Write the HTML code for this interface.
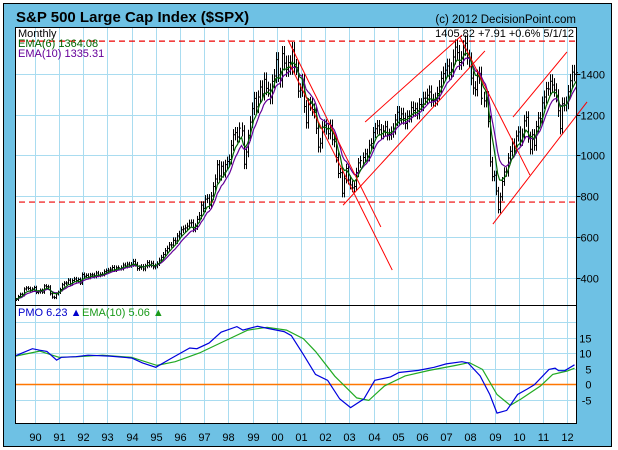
<!DOCTYPE html>
<html><head><meta charset="utf-8"><style>
html,body{margin:0;padding:0;background:#fff;}
svg{display:block;font-family:"Liberation Sans",sans-serif;}
</style></head><body>
<svg id="chart" width="618" height="450" viewBox="0 0 618 450" xmlns="http://www.w3.org/2000/svg">
<rect x="0" y="0" width="618" height="450" fill="#fff"/>
<rect x="3.5" y="3.5" width="608" height="443" fill="#6ec1e4" stroke="#000" stroke-width="1"/>
<text x="16" y="22" font-size="15" font-weight="bold" fill="#000">S&amp;P 500 Large Cap Index ($SPX)</text>
<text x="576" y="23" font-size="11.5" text-anchor="end" fill="#000">(c) 2012 DecisionPoint.com</text>
<rect x="15.5" y="27.5" width="561" height="278" fill="#fff" stroke="#000"/>
<rect x="15.5" y="305.5" width="561" height="118" fill="#fff" stroke="#000"/>
<g id="grid"></g>
<g id="marks"></g>
<rect x="15.5" y="27.5" width="561" height="278" fill="none" stroke="#000"/>
<rect x="15.5" y="305.5" width="561" height="118" fill="none" stroke="#000"/>
<g id="labels"></g>
<text x="18" y="37" font-size="11" fill="#000">Monthly</text>
<text x="18" y="47" font-size="11" fill="#006400">EMA(6) 1364.08</text>
<text x="18" y="57" font-size="11" fill="#660099">EMA(10) 1335.31</text>
<text x="574" y="37" font-size="11" text-anchor="end" fill="#000">1405.82  +7.91  +0.6%  5/1/12</text>
<text x="18" y="316" font-size="11" fill="#0000cc">PMO  6.23 ▲</text>
<text x="82" y="316" font-size="11" fill="#1a9a1a">EMA(10)  5.06 ▲</text>
</svg>
<script>
const closes1989=[294.9,309.6,320.5,317.9,346.1,351.5,349.2,340.4,346.0,353.4];
const closes1990=[329.1,331.9,339.9,330.8,361.2,358.0,356.2,322.6,306.1,304.0,322.2,330.2];
const closes1991=[343.9,367.1,375.2,375.3,389.8,371.2,387.8,395.4,387.9,392.5,375.2,417.1];
const closes1992=[408.8,412.7,403.7,415.0,415.4,408.1,424.2,414.0,417.8,418.7,431.4,435.7];
const closes1993=[438.8,443.4,451.7,440.2,450.2,450.5,448.1,463.6,458.9,467.8,461.8,466.5];
const closes1994=[481.6,467.1,445.8,450.9,456.5,444.3,458.3,475.5,462.7,472.4,453.7,459.3];
const closes1995=[470.4,487.4,500.7,514.7,533.4,544.8,562.1,561.9,584.4,581.5,605.4,615.9];
const closes1996=[636.0,640.4,645.5,654.2,669.1,670.6,640.0,652.0,687.3,705.3,757.0,740.7];
const closes1997=[786.2,790.8,757.1,801.3,848.3,885.1,954.3,899.5,947.3,914.6,955.4,970.4];
const closes1998=[980.3,1049.3,1101.8,1111.8,1090.8,1133.8,1120.7,957.3,1017.0,1098.7,1163.6,1229.2];
const closes1999=[1279.6,1238.3,1286.4,1335.2,1301.8,1372.7,1328.7,1320.4,1282.7,1362.9,1389.0,1469.3];
const closes2000=[1394.5,1366.4,1498.6,1452.4,1420.6,1454.6,1430.8,1517.7,1436.5,1429.4,1315.2,1320.3];
const closes2001=[1366.0,1239.9,1160.3,1249.5,1255.8,1224.4,1211.2,1133.6,1040.9,1059.8,1139.5,1148.1];
const closes2002=[1130.2,1106.7,1147.4,1076.9,1067.1,989.8,911.6,916.1,815.3,885.8,936.3,879.8];
const closes2003=[855.7,841.2,848.2,916.9,963.6,974.5,990.3,1008.0,996.0,1050.7,1058.2,1111.9];
const closes2004=[1131.1,1144.9,1126.2,1107.3,1120.7,1140.8,1101.7,1104.2,1114.6,1130.2,1173.8,1211.9];
const closes2005=[1181.3,1203.6,1180.6,1156.9,1191.5,1191.3,1234.2,1220.3,1228.8,1207.0,1249.5,1248.3];
const closes2006=[1280.1,1280.7,1294.9,1310.6,1270.1,1270.2,1276.7,1303.8,1335.9,1377.9,1400.6,1418.3];
const closes2007=[1438.2,1406.8,1420.9,1482.4,1530.6,1503.4,1455.3,1474.0,1526.8,1549.4,1481.1,1468.4];
const closes2008=[1378.6,1330.6,1322.7,1385.6,1400.4,1280.0,1267.4,1282.8,1166.4,968.8,896.2,903.3];
const closes2009=[825.9,735.1,797.9,872.8,919.1,919.3,987.5,1020.6,1057.1,1036.2,1095.6,1115.1];
const closes2010=[1073.9,1104.5,1169.4,1186.7,1089.4,1030.7,1101.6,1049.3,1141.2,1183.3,1180.6,1257.6];
const closes2011=[1286.1,1327.2,1325.8,1363.6,1345.2,1320.6,1292.3,1218.9,1131.4,1253.3,1247.0,1257.6];
const closes2012=[1312.4,1365.7,1408.5,1397.9,1405.8];
const startYear=1989+2/12; // March 1989

const pmoYears=[1989.2,1989.9,1990.2,1990.5,1990.9,1991.1,1991.7,1992.2,1993.1,1994.0,1994.45,1995.0,1995.6,1996.4,1996.7,1997.2,1997.7,1998.35,1998.6,1999.2,1999.65,2000.3,2000.6,2001.1,2001.6,2002.1,2002.6,2003.05,2003.6,2004.05,2004.7,2005.05,2005.85,2006.5,2007.0,2007.65,2007.9,2008.4,2008.8,2009.1,2009.5,2009.95,2010.35,2010.65,2011.25,2011.5,2011.65,2011.9,2012.3];
const pmoValues=[9.1,11.4,10.9,10.5,7.7,8.6,8.8,9.3,9.0,8.4,6.8,5.4,8.1,11.6,11.4,13.2,16.7,18.5,17.4,18.6,17.9,16.9,15.6,9.5,3.1,1.2,-4.8,-7.6,-4.8,1.2,2.3,3.7,4.4,5.4,6.5,7.2,6.8,2.6,-3.4,-9.4,-8.5,-3.4,-1.6,-0.2,4.7,5.1,4.3,4.3,6.2];
const sigYears=[1989.2,1990.2,1991.0,1991.8,1992.8,1994.0,1995.05,1995.8,1996.8,1997.8,1998.8,1999.6,2000.4,2001.1,2001.6,2002.4,2003.3,2003.8,2004.45,2005.3,2006.3,2007.4,2007.95,2008.5,2009.1,2009.65,2010.1,2010.9,2011.4,2012.0,2012.3];
const sigValues=[9.0,10.6,8.6,8.8,9.3,8.6,6.0,7.2,10.0,13.7,17.4,18.3,17.4,14.6,10.5,2.5,-4.5,-5.3,-0.6,2.6,4.4,6.0,6.9,4.7,-3.4,-6.9,-4.8,-0.6,3.1,4.2,5.1];

const trendStartYears=[2000.46,2000.55,2003.65,2002.74,2007.57,2009.76,2008.93];
const trendStartPrices=[1566,1443,1164,757,1580,1188,664];
const trendEndYears=[2004.30,2004.77,2007.66,2008.60,2010.46,2011.99,2012.82];
const trendEndPrices=[650,439,1590,1512,904,1507,1262];
const levelPrices=[1560,772];

const priceTicks=[400,600,800,1000,1200,1400];
const pmoTicks=[-5,0,5,10,15];
const yearLabels=["90","91","92","93","94","95","96","97","98","99","00","01","02","03","04","05","06","07","08","09","10","11","12"];

const closes=[].concat(closes1989,closes1990,closes1991,closes1992,closes1993,closes1994,closes1995,closes1996,closes1997,closes1998,closes1999,closes2000,closes2001,closes2002,closes2003,closes2004,closes2005,closes2006,closes2007,closes2008,closes2009,closes2010,closes2011,closes2012);

const L=15.5,R=576.5,PT=27.5,PB=305.5,QT=305.5,QB=423.5;
const xOfYear=y=>34.8+(y-1990)*24.2;
const yP=p=>278-(p-400)*0.2042;
const yQ=v=>384-v*3.1;
const NS="http://www.w3.org/2000/svg";
function mk(parent,tag,attrs){const e=document.createElementNS(NS,tag);for(const k in attrs)e.setAttribute(k,attrs[k]);parent.appendChild(e);return e;}
const grid=document.getElementById('grid'),marks=document.getElementById('marks'),labels=document.getElementById('labels');
const gc="#a9dcf0";

yearLabels.forEach((lab,i)=>{
  const x=Math.round(xOfYear(1990+i))+0.5;
  const g1=mk(grid,'line',{x1:x,x2:x,y1:PT,y2:PB,stroke:gc});
  
  
  const g2=mk(grid,'line',{x1:x,x2:x,y1:QT,y2:QB,stroke:gc});
  
  
  const t=mk(labels,'text',{x:x,y:441,'font-size':11,'text-anchor':'middle',fill:'#000'});
  t.textContent=lab;
  
  
});
priceTicks.forEach(p=>{
  const y=Math.round(yP(p))+0.5;
  const g=mk(grid,'line',{x1:L,x2:R,y1:y,y2:y,stroke:gc});
  
  
  mk(labels,'line',{x1:R,x2:R+4,y1:y,y2:y,stroke:'#000'});
  const t=mk(labels,'text',{x:R+4,y:y+4,'font-size':11,fill:'#000'});
  t.textContent=p;
  
  
});
pmoTicks.forEach(v=>{
  const y=Math.round(yQ(v))+0.5;
  const g=mk(grid,'line',{x1:L,x2:R,y1:y,y2:y,stroke:v===0?'#ff7700':gc,'stroke-width':v===0?1.5:1});
  
  
  const t=mk(labels,'text',{x:R+15,y:y+4,'font-size':11,'text-anchor':'end',fill:'#000'});
  t.textContent=v;
  
  
});
{const y=Math.round(yQ(20))+0.5;mk(grid,'line',{x1:L,x2:R,y1:y,y2:y,stroke:gc});}

// level lines
levelPrices.forEach(p=>{
  const l=mk(marks,'line',{x1:19,x2:R,y1:yP(p),y2:yP(p),stroke:'#e00',"stroke-width":1.2,"stroke-dasharray":"6,4"});
  
  
});

// bars
const xOfIdx=i=>xOfYear(startYear+(i+0.5)/12);
for(let i=0;i<closes.length;i++){
  const c=closes[i],o=i>0?closes[i-1]:c;
  const hi=Math.max(o,c)*1.025,lo=Math.min(o,c)*0.975;
  const x=Math.round(xOfIdx(i))+0.5;
  const b=mk(marks,'path',{d:`M${x},${yP(hi)}V${yP(lo)}M${x},${yP(c)}h1.5`,stroke:'#000','stroke-width':1,fill:'none'});
  
  
}
// EMAs
function ema(arr,n){const a=2/(n+1);const out=[];let e=arr[0];arr.forEach(v=>{e=e+a*(v-e);out.push(e);});return out;}
function linePath(vals){return vals.map((v,i)=>(i?'L':'M')+xOfIdx(i).toFixed(1)+','+yP(v).toFixed(1)).join('');}
const e10=mk(marks,'path',{d:linePath(ema(closes,10)),stroke:'#660099',fill:'none','stroke-width':1.2});


const e6=mk(marks,'path',{d:linePath(ema(closes,6)),stroke:'#006400',fill:'none','stroke-width':1.2});



// trendlines
trendStartYears.forEach((y0,i)=>{
  const t=mk(marks,'line',{x1:xOfYear(y0),y1:yP(trendStartPrices[i]),x2:xOfYear(trendEndYears[i]),y2:yP(trendEndPrices[i]),stroke:'#f00','stroke-width':1});
  
  
});

// PMO
function qPath(xs,vs){return xs.map((y,i)=>(i?'L':'M')+xOfYear(y).toFixed(1)+','+yQ(vs[i]).toFixed(1)).join('');}
const sg=mk(marks,'path',{d:qPath(sigYears,sigValues),stroke:'#22aa22',fill:'none','stroke-width':1.2});


const pm=mk(marks,'path',{d:qPath(pmoYears,pmoValues),stroke:'#0000dd',fill:'none','stroke-width':1.2});


</script>
</body></html>
